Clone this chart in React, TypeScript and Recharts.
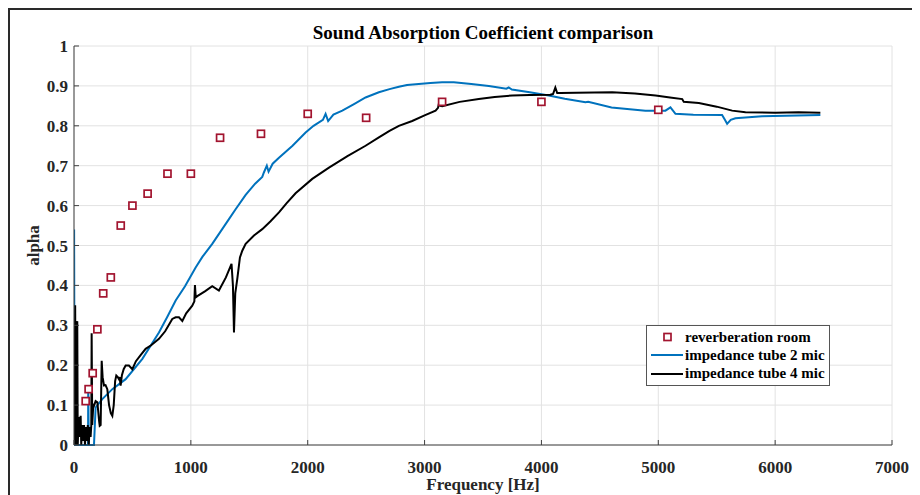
import React from 'react';
import { ComposedChart, Line, Scatter, XAxis, YAxis, CartesianGrid, Legend, Label } from 'recharts';

// Reverberation room (1/3 octave bands)
const reverbFreq = [100, 125, 160, 200, 250, 315, 400, 500, 630, 800, 1000, 1250, 1600, 2000, 2500, 3150, 4000, 5000];
const reverbAlpha = [0.11, 0.14, 0.18, 0.29, 0.38, 0.42, 0.55, 0.60, 0.63, 0.68, 0.68, 0.77, 0.78, 0.83, 0.82, 0.86, 0.86, 0.84];

// Impedance tube 2 mic
const tube2Freq = [0, 1, 5, 120, 122, 126, 165, 171, 185, 242, 328, 442, 585, 727, 800, 870, 950, 1041, 1100, 1183, 1326, 1383, 1469, 1550, 1611, 1625, 1650, 1665, 1700, 1754, 1870, 1982, 2050, 2130, 2153, 2175, 2220, 2296, 2400, 2495, 2609, 2700, 2780, 2850, 2950, 3050, 3150, 3250, 3400, 3550, 3700, 3720, 3747, 3900, 4063, 4200, 4377, 4400, 4600, 4890, 5061, 5104, 5147, 5300, 5546, 5570, 5589, 5620, 5660, 5888, 6387];
const tube2Alpha = [0, 0.54, 0, 0, 0.15, 0, 0, 0, 0.094, 0.115, 0.14, 0.165, 0.216, 0.282, 0.322, 0.362, 0.398, 0.445, 0.472, 0.504, 0.566, 0.591, 0.627, 0.655, 0.672, 0.683, 0.70, 0.685, 0.705, 0.72, 0.75, 0.783, 0.80, 0.815, 0.83, 0.812, 0.828, 0.838, 0.855, 0.871, 0.884, 0.892, 0.898, 0.902, 0.905, 0.907, 0.909, 0.909, 0.905, 0.900, 0.893, 0.896, 0.891, 0.884, 0.876, 0.868, 0.859, 0.86, 0.846, 0.838, 0.838, 0.846, 0.83, 0.828, 0.827, 0.815, 0.805, 0.815, 0.819, 0.824, 0.827];

// Impedance tube 4 mic
const tube4Freq = [0, 10, 15, 20, 28, 32, 40, 48, 57, 62, 70, 78, 86, 94, 102, 110, 118, 126, 134, 142, 148, 151, 156, 165, 171, 185, 200, 215, 220, 228, 237, 245, 257, 270, 285, 300, 315, 328, 340, 352, 362, 375, 385, 392, 399, 410, 425, 442, 470, 499, 530, 570, 613, 660, 727, 780, 841, 870, 898, 927, 960, 1012, 1030, 1035, 1042, 1055, 1120, 1183, 1240, 1300, 1348, 1360, 1369, 1380, 1397, 1420, 1440, 1469, 1540, 1611, 1680, 1754, 1820, 1896, 2039, 2182, 2340, 2495, 2609, 2700, 2780, 2894, 3000, 3094, 3115, 3122, 3135, 3151, 3300, 3464, 3600, 3750, 3900, 4076, 4100, 4119, 4135, 4162, 4300, 4606, 4800, 4977, 5100, 5205, 5218, 5347, 5500, 5632, 5746, 6000, 6200, 6387];
const tube4Alpha = [0, 0.35, 0, 0.3, 0.31, 0, 0.07, 0.02, 0.073, 0, 0.05, 0.01, 0.05, 0, 0.045, 0.01, 0.05, 0, 0.045, 0.02, 0.05, 0.28, 0.05, 0.1, 0.098, 0.11, 0.107, 0.06, 0.048, 0.05, 0.211, 0.17, 0.149, 0.15, 0.14, 0.10, 0.08, 0.073, 0.1, 0.16, 0.174, 0.17, 0.165, 0.17, 0.149, 0.175, 0.19, 0.199, 0.199, 0.19, 0.21, 0.225, 0.241, 0.25, 0.266, 0.285, 0.316, 0.32, 0.32, 0.311, 0.33, 0.349, 0.36, 0.401, 0.37, 0.373, 0.385, 0.398, 0.387, 0.42, 0.454, 0.40, 0.282, 0.38, 0.416, 0.47, 0.487, 0.504, 0.525, 0.541, 0.56, 0.583, 0.606, 0.631, 0.667, 0.695, 0.724, 0.75, 0.771, 0.787, 0.80, 0.812, 0.826, 0.838, 0.845, 0.855, 0.85, 0.849, 0.86, 0.867, 0.872, 0.876, 0.877, 0.878, 0.88, 0.896, 0.882, 0.882, 0.883, 0.884, 0.881, 0.876, 0.871, 0.867, 0.860, 0.857, 0.848, 0.838, 0.834, 0.833, 0.834, 0.833];

const xTicks = [0, 1000, 2000, 3000, 4000, 5000, 6000, 7000];
const yTicks = [0, 0.1, 0.2, 0.3, 0.4, 0.5, 0.6, 0.7, 0.8, 0.9, 1];
const yTickLabels = ['0', '0.1', '0.2', '0.3', '0.4', '0.5', '0.6', '0.7', '0.8', '0.9', '1'];

const seriesNames = ['reverberation room', 'impedance tube 2 mic', 'impedance tube 4 mic'];
const titleText = 'Sound Absorption Coefficient comparison';
const xLabel = 'Frequency [Hz]';
const yLabel = 'alpha';

const RED = '#A2142F';
const BLUE = '#0072BD';
const BLACK = '#000000';
const FONT = '"Liberation Serif", "Times New Roman", serif';

const reverbData = reverbFreq.map((f, i) => ({ f, a: reverbAlpha[i] }));
const tube2Data = tube2Freq.map((f, i) => ({ f, a: tube2Alpha[i] }));
const tube4Data = tube4Freq.map((f, i) => ({ f, a: tube4Alpha[i] }));

const SquareMarker = (props: any) => {
  const { cx, cy } = props;
  if (cx == null || cy == null) return null;
  return <rect x={cx - 3.5} y={cy - 3.5} width={7} height={7} fill="#ffffff" stroke={RED} strokeWidth={1.7} />;
};

const LegendBox = () => {
  const rowStyle: React.CSSProperties = { display: 'flex', alignItems: 'center', height: 18.3 };
  const textStyle: React.CSSProperties = { fontFamily: FONT, fontWeight: 'bold', fontSize: 15, color: '#000', whiteSpace: 'nowrap', marginLeft: 2 };
  return (
    <div style={{ width: 184, height: 61, boxSizing: 'border-box', border: '1px solid #555', background: '#fff', paddingTop: 2 }}>
      <div style={rowStyle}>
        <svg width={36} height={18}>
          <rect x={17} y={5.5} width={7} height={7} fill="#fff" stroke={RED} strokeWidth={1.7} />
        </svg>
        <span style={textStyle}>{seriesNames[0]}</span>
      </div>
      <div style={rowStyle}>
        <svg width={36} height={18}>
          <line x1={4} x2={36} y1={9} y2={9} stroke={BLUE} strokeWidth={2} />
        </svg>
        <span style={textStyle}>{seriesNames[1]}</span>
      </div>
      <div style={rowStyle}>
        <svg width={36} height={18}>
          <line x1={4} x2={36} y1={9} y2={9} stroke={BLACK} strokeWidth={2} />
        </svg>
        <span style={textStyle}>{seriesNames[2]}</span>
      </div>
    </div>
  );
};

const tickStyle = { fontFamily: FONT, fontWeight: 'bold', fontSize: 17, fill: '#262626' } as any;

export default function App() {
  return (
    <div style={{ width: 912, height: 487, boxSizing: 'border-box', borderLeft: '2px solid #2a2a2a', borderTop: '2px solid #2a2a2a', background: '#fff', overflow: 'hidden' }}>
      <ComposedChart width={910} height={485} margin={{ top: 36, right: 28, bottom: 0, left: 0 }}>
        <text x={473} y={29} textAnchor="middle" fontFamily={FONT} fontWeight="bold" fontSize={19} fill="#000">{titleText}</text>
        <CartesianGrid stroke="#e2e2e2" strokeWidth={1} />
        <XAxis
          dataKey="f"
          type="number"
          domain={[0, 7000]}
          ticks={xTicks}
          allowDataOverflow
          height={50}
          stroke="#404040"
          tickSize={-5}
          tickMargin={21}
          tick={tickStyle}
          interval={0}
        >
          <Label
            content={(p: any) => {
              const vb = p.viewBox || {};
              return (
                <text x={vb.x + vb.width / 2} y={vb.y + 45} textAnchor="middle" fontFamily={FONT} fontWeight="bold" fontSize={17} fill="#262626">{xLabel}</text>
              );
            }}
          />
        </XAxis>
        <XAxis xAxisId="top" orientation="top" dataKey="f" type="number" domain={[0, 7000]} ticks={xTicks} height={0} stroke="#404040" tickSize={-5} tick={false} />
        <YAxis
          type="number"
          domain={[0, 1]}
          ticks={yTicks}
          width={64}
          stroke="#404040"
          tickSize={-5}
          tickMargin={11}
          tick={tickStyle}
          interval={0}
          tickFormatter={(v: number, i: number) => yTickLabels[i]}
        >
          <Label
            content={(p: any) => {
              const vb = p.viewBox || {};
              const cy = vb.y + vb.height / 2;
              return (
                <text x={23} y={cy} transform={`rotate(-90, 23, ${cy})`} textAnchor="middle" dominantBaseline="central" fontFamily={FONT} fontWeight="bold" fontSize={17} fill="#262626">{yLabel}</text>
              );
            }}
          />
        </YAxis>
        <YAxis yAxisId="right" orientation="right" type="number" domain={[0, 1]} ticks={yTicks} width={0} stroke="#404040" tickSize={-5} tick={false} />
        <Line data={tube2Data} dataKey="a" type="linear" stroke={BLUE} strokeWidth={2} dot={false} isAnimationActive={false} name={seriesNames[1]} />
        <Line data={tube4Data} dataKey="a" type="linear" stroke={BLACK} strokeWidth={2} dot={false} isAnimationActive={false} name={seriesNames[2]} />
        <Scatter data={reverbData} dataKey="a" shape={SquareMarker} isAnimationActive={false} name={seriesNames[0]} />
        <Legend
          layout="vertical"
          align="center"
          verticalAlign="middle"
          content={() => <LegendBox />}
          wrapperStyle={{ left: 636, top: 315, width: 184, height: 61 }}
        />
      </ComposedChart>
    </div>
  );
}
